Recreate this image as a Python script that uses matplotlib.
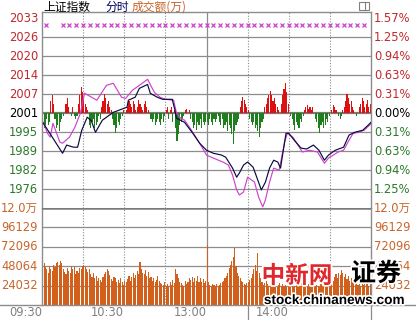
import numpy as np
import matplotlib
matplotlib.use('Agg')
import matplotlib.pyplot as plt
import matplotlib.patheffects as pe
from matplotlib.patches import Rectangle
from matplotlib.lines import Line2D

plt.rcParams['font.family'] = ['DejaVu Sans', 'Noto Sans CJK SC']

# ---- data ----
prev_close = 2001.0
pct_step = 0.003125
price_labels = ['2033', '2026', '2020', '2014', '2007', '2001', '1995', '1989', '1982', '1976']
pct_labels = ['1.57%', '1.25%', '0.94%', '0.63%', '0.31%', '0.00%', '0.31%', '0.63%', '0.94%', '1.25%']
vol_labels = ['96129', '72096', '48064', '24032']
vol_ticks = [96129, 72096, 48064, 24032]
vol_top_label = '12.0万'
vol_top = 120000
time_labels = ['09:30', '10:30', '13:00', '14:00']
time_ticks = [0, 60, 120, 180]

# index line (minute, value)
idx_min = [1, 15, 18, 23, 26, 29, 33, 36, 39, 44, 52, 62, 63, 68, 71, 77, 79, 84, 88, 95,
           97, 98, 104, 110, 115, 120, 125, 131, 134, 139, 142, 144, 147, 150, 154, 160, 163,
           166, 169, 172, 174, 178, 180, 184, 189, 193, 198, 202, 206, 209, 214, 220, 224,
           228, 234, 238, 240]
idx_val = [1997.7, 1987.8, 1990.5, 1989.8, 1989.8, 1995.4, 1999.7, 1998.5, 1994.7, 1998.7,
           2001.3, 2003.0, 2005.3, 2006.3, 2009.2, 2010.5, 2007.6, 2006.3, 2005.6, 2005.6,
           2002.0, 1999.4, 1998.0, 1994.4, 1991.1, 1988.8, 1987.8, 1987.2, 1986.5, 1982.9,
           1979.9, 1981.3, 1983.9, 1984.9, 1983.2, 1975.7, 1978.3, 1982.9, 1985.5, 1984.9,
           1982.9, 1994.4, 1994.4, 1992.1, 1989.5, 1989.2, 1990.5, 1988.8, 1985.5, 1987.2,
           1988.8, 1989.8, 1993.8, 1994.7, 1995.4, 1997.1, 1998.0]

# average line (minute, value)
avg_min = [1, 4, 6, 8, 13, 15, 20, 24, 28, 31, 40, 47, 52, 58, 61, 66, 71, 77, 80, 82, 86,
           90, 96, 98, 101, 104, 108, 115, 120, 125, 132, 136, 139, 142, 144, 147, 150, 155,
           158, 161, 163, 166, 169, 173, 177, 179, 183, 190, 195, 201, 206, 209, 216, 220,
           224, 227, 231, 235, 239, 240]
avg_val = [1998.0, 1994.4, 1993.1, 1997.7, 1991.5, 1991.1, 1993.1, 1996.4, 2001.0, 2007.6,
           2005.3, 2010.2, 2010.9, 2006.3, 2005.9, 2008.6, 2010.2, 2012.2, 2009.6, 2007.9,
           2006.3, 2005.6, 2005.3, 2001.3, 1999.4, 1998.7, 1996.1, 1991.1, 1987.2, 1986.2,
           1984.9, 1983.9, 1980.6, 1975.7, 1974.0, 1975.0, 1979.9, 1978.3, 1973.4, 1970.1,
           1972.4, 1978.3, 1982.9, 1982.2, 1991.5, 1994.4, 1993.1, 1988.2, 1988.8, 1988.2,
           1984.5, 1986.2, 1988.2, 1988.8, 1992.1, 1994.4, 1994.7, 1995.4, 1997.1, 1997.7]

# red / green strength bars, one per minute (points relative to previous close)
strength = [
    -3, -5, -4, -2, -4, -3, 4, 6, 3, -2,
    -5, -4, -6, -3, -2, -1, 0, 3, 5, 2,
    0, -1, 2, -1, -2, -1, 3, 6, 8.5, 7,
    5, 3, 2, 1, -4, -5, -3, -2, -5, -4,
    -3, -1, -2, 2, 4, 6.5, 5, 3, 4, 2,
    1, -2, -4, -6.5, -5, -3, -4, -2, -1, 1,
    0, 1, 2, 4, 3, 2, 4, 3, 1, 2,
    4.5, 3, 2, 1, 3, 4, 2, 1, 0, -2,
    -3, -2, -4, -3, -2, -3, -4, -2, -3, -1,
    1, 2, -2, 1, 2, -3, 1, -5, -9, -7,
    -4, -3, -2, -1, 1, 1.5, 0, 1, -2, -3,
    -5, -4, -5.5, -3, -4, -2, -5, -3, -4, -3,
    -3, -4, -2, -3, -4, -2, -3, -2, -1, -3,
    -4, -2, -5, -4, -3, -6, -4, -5, -7, -10,
    -6, -4, -3, -2, 2, 4, 5.3, 4.5, 3, 2,
    1, -2, -3, -4, -3, -5, -4, -6, -8, -5,
    -3, -2, 2, 3, 5, 6, 7.5, 6, 4, 5,
    3, 2, 1, 0, 3, 6, 8, 10, 7, 3,
    0, -1, -2, -4, -5.5, -3, -4, -5, -2, -3,
    -1, 1, 2, 2.6, 1.5, 2, 1, 2, 0, -2,
    -3, -5, -6.5, -4, -3, -5, -4, -2, -3, -1,
    0, 1, 2.6, 2, 1, 0, -1, -2, -1, 1,
    2, 4, 6.5, 5, 3, 4, 2, 1, 0, -1,
    0, 2, 3, 5, 4, 2, 3, 4.5, 2, 3,
]

# turnover per minute, thousands
volume_k = [
    111, 52, 47, 44, 40, 48, 45, 42, 50, 47,
    52, 53, 50, 54, 52, 45, 41, 38, 46, 42,
    40, 48, 44, 47, 38, 42, 40, 46, 44, 48,
    50, 47, 44, 41, 45, 38, 35, 40, 33, 36,
    30, 34, 31, 29, 35, 38, 41, 44, 42, 37,
    32, 30, 35, 33, 28, 31, 27, 33, 29, 25,
    30, 28, 32, 36, 30, 35, 39, 33, 37, 42,
    38, 53, 44, 40, 38, 43, 36, 41, 33, 35,
    30, 33, 28, 31, 36, 30, 27, 26, 25, 28,
    24, 26, 24, 28, 25, 31, 27, 45, 38, 33,
    29, 27, 25, 24, 30, 26, 28, 34, 31, 35,
    28, 33, 30, 36, 29, 34, 28, 32, 27, 30,
    74, 28, 25, 24, 26, 25, 24, 26, 24, 25,
    27, 28, 30, 33, 36, 40, 46, 50, 55, 60,
    70, 48, 40, 36, 33, 30, 28, 26, 25, 27,
    29, 31, 34, 38, 45, 50, 42, 64, 40, 33,
    28, 25, 27, 30, 26, 24, 28, 25, 23, 26,
    24, 22, 25, 27, 24, 26, 23, 25, 22, 24,
    26, 23, 25, 22, 24, 26, 28, 25, 23, 27,
    24, 22, 25, 23, 26, 24, 22, 25, 27, 23,
    25, 24, 22, 26, 24, 28, 25, 23, 27, 30,
    28, 32, 30, 35, 38, 34, 40, 37, 43, 39,
    35, 38, 32, 36, 30, 34, 28, 31, 26, 29,
    25, 28, 24, 27, 25, 30, 26, 28, 24, 27,
]

marker_min = [3] + list(range(15, 240, 5))
marker_val = 2030.1

# ---- styles ----
GRID = '#8c8c8c'
RED = '#c0282d'
GREEN = '#2a7a2a'
ORANGE = '#c8642a'
NAVY = '#0a0a40'
MAGENTA = '#cc44cc'

W, H = 416, 320
L, R = 42, 371
fig = plt.figure(figsize=(W / 100, H / 100), dpi=100)
ax = fig.add_axes([L / W, 1 - 208 / H, (R - L) / W, (208 - 12) / H])
axv = fig.add_axes([L / W, 1 - 305 / H, (R - L) / W, (305 - 208) / H])

levels = [prev_close * (1 + k * pct_step) for k in range(5, -5, -1)]
ax.set_xlim(0, 240)
ax.set_ylim(prev_close * (1 - 5 * pct_step), prev_close * (1 + 5.343 * pct_step))
axv.set_xlim(0, 240)
axv.set_ylim(0, vol_top)

for a in (ax, axv):
    a.set_xticks([])
    a.set_yticks([])
    for s in a.spines.values():
        s.set_color(GRID)
        s.set_linewidth(1)
    a.spines['bottom'].set_visible(False)
axv.spines['top'].set_visible(False)

# grid
for lv in levels[1:]:
    if abs(lv - prev_close) < 1e-6:
        ax.axhline(lv, color='#7a7a7a', lw=1.6, zorder=1)
    else:
        ax.axhline(lv, color=GRID, lw=0.9, zorder=1)
for v in vol_ticks:
    axv.axhline(v, color=GRID, lw=0.9, zorder=1)
axv.axhline(vol_top, color='#7a7a7a', lw=1.8, zorder=4)
for m in range(30, 240, 30):
    for a in (ax, axv):
        if m == 120:
            a.axvline(m, color=GRID, lw=0.9, zorder=1)
        else:
            a.axvline(m, color=GRID, lw=0.8, ls=(0, (1, 1.5)), zorder=1)

# strength bars
mins = np.arange(len(strength)) + 0.5
s = np.array(strength, dtype=float)
ax.bar(mins, s, bottom=prev_close, width=0.8, color=np.where(s >= 0, '#dd1111', '#1f7f1f'),
       linewidth=0, zorder=2)

# lines
ax.plot(avg_min, avg_val, color=MAGENTA, lw=0.85, zorder=3)
ax.plot(idx_min, idx_val, color=NAVY, lw=0.85, zorder=3)
ax.plot(marker_min, [marker_val] * len(marker_min), ls='none', marker='x', ms=3,
        mew=0.9, color=MAGENTA, zorder=3)

# volume
vm = np.arange(len(volume_k)) + 0.5
axv.bar(vm, np.array(volume_k) * 1000, width=0.8, color='#d0601c', linewidth=0, zorder=2)

# labels
fs = 8.3
ty = ax.get_yaxis_transform()
for lv, lab, pl in zip(levels, price_labels, pct_labels):
    if abs(lv - prev_close) < 1e-6:
        c = 'black'
    elif lv > prev_close:
        c = RED
    else:
        c = GREEN
    ax.text(-4 / (R - L), lv, lab, transform=ty, ha='right', va='center', fontsize=fs, color=c)
    ax.text(1 + 3 / (R - L), lv, pl, transform=ty, ha='left', va='center', fontsize=fs, color=c)

tv = axv.get_yaxis_transform()
for v, lab in zip(vol_ticks, vol_labels):
    axv.text(-4 / (R - L), v, lab, transform=tv, ha='right', va='center', fontsize=fs, color=ORANGE)
    axv.text(1 + 3 / (R - L), v, lab, transform=tv, ha='left', va='center', fontsize=fs, color=ORANGE)
for xx, ha in ((-4 / (R - L), 'right'), (1 + 3 / (R - L), 'left')):
    axv.text(xx, vol_top, vol_top_label, transform=tv, ha=ha, va='center', fontsize=fs,
             color=ORANGE, family=['DejaVu Sans', 'Noto Sans CJK SC'])

tx = axv.get_xaxis_transform()
for t, lab in zip(time_ticks, time_labels):
    axv.text(t, -8 / 97, lab, transform=tx, ha='right', va='center', fontsize=fs, color='#808080')
for t in (150, 240):
    axv.plot([t, t], [0, -15 / 97], transform=tx, color=GRID, lw=0.9, clip_on=False)

# bottom rule across the width
fig.add_artist(Line2D([0, 1], [1 - 305 / H, 1 - 305 / H], transform=fig.transFigure,
                      color=GRID, lw=1))

# header
cjk = ['Noto Sans CJK SC', 'DejaVu Sans']
fig.text(43 / W, 1 - 7 / H, '上证指数', fontsize=8.5, family=cjk, color='black', va='center')
fig.text(105 / W, 1 - 7 / H, '分时', fontsize=8.5, family=cjk, color='#000060', va='center')
fig.text(132 / W, 1 - 7 / H, '成交额(万)', fontsize=8.5, family=cjk, color=ORANGE, va='center')
fig.add_artist(Rectangle((359 / W, 1 - 10 / H), 10 / W, 8 / H, transform=fig.transFigure,
                         fill=False, edgecolor='#808080', lw=0.8))
fig.add_artist(Line2D([365 / W, 365 / W], [1 - 10 / H, 1 - 2 / H], transform=fig.transFigure,
                      color='#808080', lw=0.8))

# watermark
halo = [pe.withStroke(linewidth=2.5, foreground='white')]
fig.text(297 / W, 1 - 276 / H, '中新网', fontsize=17, family=cjk, weight='bold',
         color='#e0282c', ha='center', va='center', path_effects=halo, zorder=10)
fig.text(376 / W, 1 - 274 / H, '证券', fontsize=18, family=cjk, weight='bold',
         color='black', ha='center', va='center', path_effects=halo, zorder=10)
fig.text(334 / W, 1 - 300 / H, 'stock.chinanews.com', fontsize=9.8, family='Liberation Sans',
         weight='bold', color='black', ha='center', va='center', path_effects=halo, zorder=10)

fig.savefig('out.png', dpi=100)
